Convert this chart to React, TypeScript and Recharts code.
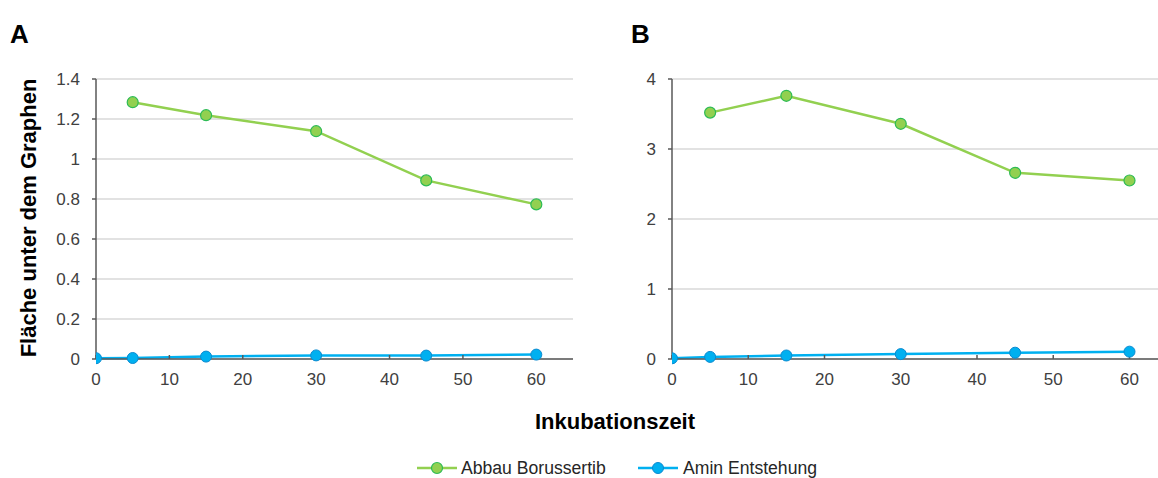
import { LineChart, Line, XAxis, YAxis, CartesianGrid } from 'recharts'

// Inkubationszeit (min)
const zeit = [0, 5, 15, 30, 45, 60]

// Panel A
const abbauA = [null, 1.284, 1.219, 1.139, 0.893, 0.773]
const aminA = [0.004, 0.005, 0.012, 0.018, 0.017, 0.022]
const yTicksA = [0, 0.2, 0.4, 0.6, 0.8, 1, 1.2, 1.4]

// Panel B
const abbauB = [null, 3.52, 3.76, 3.36, 2.66, 2.55]
const aminB = [0.01, 0.03, 0.05, 0.07, 0.09, 0.105]
const yTicksB = [0, 1, 2, 3, 4]

const xTicks = [0, 10, 20, 30, 40, 50, 60]

const GREEN = '#92d050'
const GREEN_EDGE = '#2dbb55'
const BLUE = '#00b0f0'
const BLUE_EDGE = '#0a8ad0'
const AXIS = '#595959'
const GRID = '#d9d9d9'
const FONT = '"Liberation Sans", Arial, sans-serif'

const dataA = zeit.map((t, i) => ({ t, abbau: abbauA[i], amin: aminA[i] }))
const dataB = zeit.map((t, i) => ({ t, abbau: abbauB[i], amin: aminB[i] }))

const tickStyle = { fontSize: 17, fill: '#404040', fontFamily: FONT }

function Panel({ data, yTicks, yMax, xMax, yWidth, width }: {
  data: typeof dataA; yTicks: number[]; yMax: number; xMax: number; yWidth: number; width: number
}) {
  return (
    <LineChart width={width} height={400} data={data}
      margin={{ top: 79, right: 0, left: 0, bottom: 0 }}>
      <CartesianGrid vertical={false} stroke={GRID} strokeWidth={1.5} />
      <XAxis dataKey="t" type="number" domain={[0, xMax]} ticks={xTicks} height={41}
        allowDataOverflow interval={0}
        tick={tickStyle} stroke={AXIS} strokeWidth={1.5} tickSize={-4} tickMargin={18} />
      <YAxis type="number" domain={[0, yMax]} ticks={yTicks} width={yWidth} interval={0}
        tick={tickStyle} stroke={AXIS} strokeWidth={1.5} tickSize={4} tickMargin={12} />
      <Line dataKey="amin" stroke={BLUE} strokeWidth={2.5} isAnimationActive={false}
        dot={{ r: 5.5, fill: BLUE, stroke: BLUE_EDGE, strokeWidth: 1 }} />
      <Line dataKey="abbau" stroke={GREEN} strokeWidth={2.5} isAnimationActive={false}
        dot={{ r: 5.5, fill: GREEN, stroke: GREEN_EDGE, strokeWidth: 1.2 }} />
    </LineChart>
  )
}

export default function App() {
  return (
    <div style={{ position: 'absolute', left: 0, top: 0, width: 1158, height: 478, overflow: 'hidden', background: '#fff', fontFamily: FONT }}>
      <div style={{ position: 'absolute', left: 0, top: 0 }}>
        <Panel data={dataA} yTicks={yTicksA} yMax={1.4} xMax={65} yWidth={96} width={573} />
      </div>
      <div style={{ position: 'absolute', left: 580, top: 0 }}>
        <Panel data={dataB} yTicks={yTicksB} yMax={4} xMax={64} yWidth={92} width={580} />
      </div>
      <svg width={1158} height={478} style={{ position: 'absolute', left: 0, top: 0, pointerEvents: 'none' }}>
        <text x={10} y={43} fontSize={26} fontWeight="bold" fill="#000">A</text>
        <text x={631} y={43} fontSize={26} fontWeight="bold" fill="#000">B</text>
        <text transform="translate(36,218) rotate(-90)" textAnchor="middle" fontSize={22} fontWeight="bold" fill="#000">
          Fläche unter dem Graphen
        </text>
        <text x={615} y={429} textAnchor="middle" fontSize={22} fontWeight="bold" fill="#000">Inkubationszeit</text>
        <line x1={417} x2={457} y1={468} y2={468} stroke={GREEN} strokeWidth={2.5} />
        <circle cx={437} cy={468} r={5.5} fill={GREEN} stroke={GREEN_EDGE} strokeWidth={1.2} />
        <text x={461} y={474} fontSize={17.6} fill="#262626">Abbau Borussertib</text>
        <line x1={638} x2={678} y1={468} y2={468} stroke={BLUE} strokeWidth={2.5} />
        <circle cx={658} cy={468} r={5.5} fill={BLUE} stroke={BLUE_EDGE} strokeWidth={1} />
        <text x={683} y={474} fontSize={17.6} fill="#262626">Amin Entstehung</text>
      </svg>
    </div>
  )
}
